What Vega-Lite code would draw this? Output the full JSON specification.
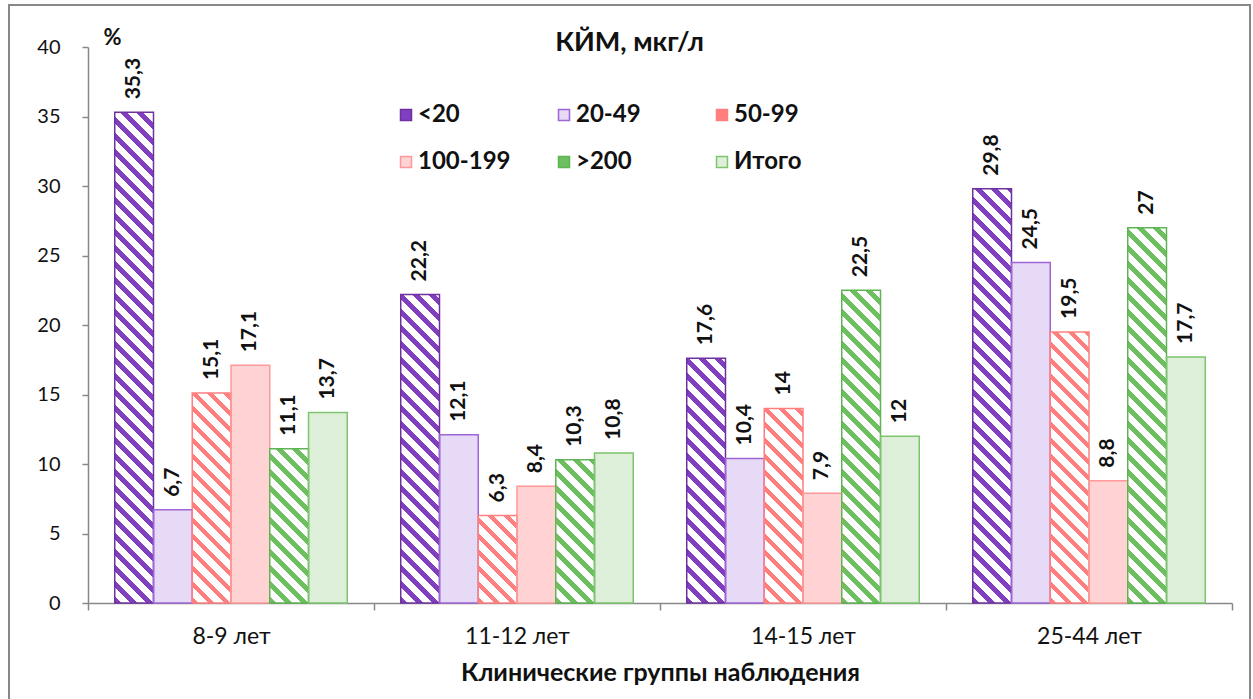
{
  "$schema": "https://vega.github.io/schema/vega-lite/v6.json",
  "width": 1241,
  "height": 700,
  "autosize": {"type": "none"},
  "padding": {"left": 9, "top": 5, "right": 3, "bottom": 0},
  "background": "white",
  "config": {
    "font": "Lato",
    "view": {"stroke": "#888888", "strokeWidth": 2},
    "locale": {"number": {"decimal": ",", "thousands": " ", "grouping": [3], "currency": ["", ""]}},
    "axis": {"grid": false, "domainColor": "#888888", "tickColor": "#888888", "domainWidth": 1.5, "tickWidth": 1.5, "labelColor": "#111111", "titleColor": "#111111"}
  },
  "title": {"text": "КЙМ, мкг/л", "fontSize": 27, "fontWeight": "bold", "anchor": "middle", "baseline": "alphabetic", "offset": -73, "color": "#111111"},
  "data": {"values": [
    {"g": "8-9 лет", "s": "<20", "v": 35.3},
    {"g": "8-9 лет", "s": "20-49", "v": 6.7},
    {"g": "8-9 лет", "s": "50-99", "v": 15.1},
    {"g": "8-9 лет", "s": "100-199", "v": 17.1},
    {"g": "8-9 лет", "s": ">200", "v": 11.1},
    {"g": "8-9 лет", "s": "Итого", "v": 13.7},
    {"g": "11-12 лет", "s": "<20", "v": 22.2},
    {"g": "11-12 лет", "s": "20-49", "v": 12.1},
    {"g": "11-12 лет", "s": "50-99", "v": 6.3},
    {"g": "11-12 лет", "s": "100-199", "v": 8.4},
    {"g": "11-12 лет", "s": ">200", "v": 10.3},
    {"g": "11-12 лет", "s": "Итого", "v": 10.8},
    {"g": "14-15 лет", "s": "<20", "v": 17.6},
    {"g": "14-15 лет", "s": "20-49", "v": 10.4},
    {"g": "14-15 лет", "s": "50-99", "v": 14},
    {"g": "14-15 лет", "s": "100-199", "v": 7.9},
    {"g": "14-15 лет", "s": ">200", "v": 22.5},
    {"g": "14-15 лет", "s": "Итого", "v": 12},
    {"g": "25-44 лет", "s": "<20", "v": 29.8},
    {"g": "25-44 лет", "s": "20-49", "v": 24.5},
    {"g": "25-44 лет", "s": "50-99", "v": 19.5},
    {"g": "25-44 лет", "s": "100-199", "v": 8.8},
    {"g": "25-44 лет", "s": ">200", "v": 27},
    {"g": "25-44 лет", "s": "Итого", "v": 17.7}
  ]},
  "encoding": {
    "x": {
      "field": "g", "type": "nominal", "sort": ["8-9 лет", "11-12 лет", "14-15 лет", "25-44 лет"],
      "scale": {"range": [79, 1223], "paddingInner": 0, "paddingOuter": 0},
      "axis": {"labelAngle": 0, "tickBand": "extent", "tickSize": 7, "offset": -102, "labelFontSize": 23, "labelPadding": 15, "title": "Клинические группы наблюдения", "titleFontSize": 25, "titleFontWeight": "bold", "titlePadding": 12}
    },
    "xOffset": {
      "field": "s", "type": "nominal",
      "scale": {"domain": ["<20", "20-49", "50-99", "100-199", ">200", "Итого"], "paddingInner": 0, "paddingOuter": 0.69}
    },
    "y": {
      "field": "v", "type": "quantitative",
      "scale": {"domain": [0, 40], "range": [598, 42], "nice": false, "zero": true},
      "axis": {"values": [0, 5, 10, 15, 20, 25, 30, 35, 40], "offset": -79, "tickSize": 6, "labelPadding": 22, "labelFontSize": 20, "title": "%", "titleAngle": 0, "titleX": 15, "titleY": 39, "titleAlign": "left", "titleBaseline": "alphabetic", "titleFontSize": 22, "titleFontWeight": "bold"}
    }
  },
  "layer": [
    {
      "mark": {"type": "bar"},
      "encoding": {
        "fill": {
          "field": "s", "type": "nominal",
          "scale": {"domain": ["<20", "20-49", "50-99", "100-199", ">200", "Итого"], "range": ["#7F3FBF", "#E7DAF6", "#FF7F7F", "#FFD3D3", "#6DBF5F", "#DDEFD8"]},
          "legend": {
            "orient": "none", "legendX": 385, "legendY": 98, "columns": 3, "direction": "horizontal", "gridAlign": "all",
            "columnPadding": 41, "rowPadding": 23, "title": null,
            "labelFontSize": 24, "labelFontWeight": "bold", "labelColor": "#111111", "labelOffset": 0,
            "symbolType": "square", "symbolSize": 121, "symbolStrokeWidth": 1.5, "padding": 0
          }
        }
      }
    },
    {
      "mark": {
        "type": "bar", "strokeWidth": 1.5,
        "fill": {"expr": "indexof(['<20','50-99','>200'], datum.s) < 0 ? 'transparent' : {gradient:'linear', x1:0, y1:1, x2: bandwidth('xOffset')*640/(pow(bandwidth('xOffset'),2)+pow(scale('y',0)-scale('y',datum.v),2)), y2: 1-(scale('y',0)-scale('y',datum.v))*640/(pow(bandwidth('xOffset'),2)+pow(scale('y',0)-scale('y',datum.v),2)), stops:[{offset:0,color:'rgba(255,255,255,0)'},{offset:0.0105,color:'rgba(255,255,255,0)'},{offset:0.0105,color:'white'},{offset:0.025,color:'white'},{offset:0.025,color:'rgba(255,255,255,0)'},{offset:0.0355,color:'rgba(255,255,255,0)'},{offset:0.0355,color:'white'},{offset:0.05,color:'white'},{offset:0.05,color:'rgba(255,255,255,0)'},{offset:0.0605,color:'rgba(255,255,255,0)'},{offset:0.0605,color:'white'},{offset:0.075,color:'white'},{offset:0.075,color:'rgba(255,255,255,0)'},{offset:0.0855,color:'rgba(255,255,255,0)'},{offset:0.0855,color:'white'},{offset:0.1,color:'white'},{offset:0.1,color:'rgba(255,255,255,0)'},{offset:0.1105,color:'rgba(255,255,255,0)'},{offset:0.1105,color:'white'},{offset:0.125,color:'white'},{offset:0.125,color:'rgba(255,255,255,0)'},{offset:0.1355,color:'rgba(255,255,255,0)'},{offset:0.1355,color:'white'},{offset:0.15,color:'white'},{offset:0.15,color:'rgba(255,255,255,0)'},{offset:0.1605,color:'rgba(255,255,255,0)'},{offset:0.1605,color:'white'},{offset:0.175,color:'white'},{offset:0.175,color:'rgba(255,255,255,0)'},{offset:0.1855,color:'rgba(255,255,255,0)'},{offset:0.1855,color:'white'},{offset:0.2,color:'white'},{offset:0.2,color:'rgba(255,255,255,0)'},{offset:0.2105,color:'rgba(255,255,255,0)'},{offset:0.2105,color:'white'},{offset:0.225,color:'white'},{offset:0.225,color:'rgba(255,255,255,0)'},{offset:0.2355,color:'rgba(255,255,255,0)'},{offset:0.2355,color:'white'},{offset:0.25,color:'white'},{offset:0.25,color:'rgba(255,255,255,0)'},{offset:0.2605,color:'rgba(255,255,255,0)'},{offset:0.2605,color:'white'},{offset:0.275,color:'white'},{offset:0.275,color:'rgba(255,255,255,0)'},{offset:0.2855,color:'rgba(255,255,255,0)'},{offset:0.2855,color:'white'},{offset:0.3,color:'white'},{offset:0.3,color:'rgba(255,255,255,0)'},{offset:0.3105,color:'rgba(255,255,255,0)'},{offset:0.3105,color:'white'},{offset:0.325,color:'white'},{offset:0.325,color:'rgba(255,255,255,0)'},{offset:0.3355,color:'rgba(255,255,255,0)'},{offset:0.3355,color:'white'},{offset:0.35,color:'white'},{offset:0.35,color:'rgba(255,255,255,0)'},{offset:0.3605,color:'rgba(255,255,255,0)'},{offset:0.3605,color:'white'},{offset:0.375,color:'white'},{offset:0.375,color:'rgba(255,255,255,0)'},{offset:0.3855,color:'rgba(255,255,255,0)'},{offset:0.3855,color:'white'},{offset:0.4,color:'white'},{offset:0.4,color:'rgba(255,255,255,0)'},{offset:0.4105,color:'rgba(255,255,255,0)'},{offset:0.4105,color:'white'},{offset:0.425,color:'white'},{offset:0.425,color:'rgba(255,255,255,0)'},{offset:0.4355,color:'rgba(255,255,255,0)'},{offset:0.4355,color:'white'},{offset:0.45,color:'white'},{offset:0.45,color:'rgba(255,255,255,0)'},{offset:0.4605,color:'rgba(255,255,255,0)'},{offset:0.4605,color:'white'},{offset:0.475,color:'white'},{offset:0.475,color:'rgba(255,255,255,0)'},{offset:0.4855,color:'rgba(255,255,255,0)'},{offset:0.4855,color:'white'},{offset:0.5,color:'white'},{offset:0.5,color:'rgba(255,255,255,0)'},{offset:0.5105,color:'rgba(255,255,255,0)'},{offset:0.5105,color:'white'},{offset:0.525,color:'white'},{offset:0.525,color:'rgba(255,255,255,0)'},{offset:0.5355,color:'rgba(255,255,255,0)'},{offset:0.5355,color:'white'},{offset:0.55,color:'white'},{offset:0.55,color:'rgba(255,255,255,0)'},{offset:0.5605,color:'rgba(255,255,255,0)'},{offset:0.5605,color:'white'},{offset:0.575,color:'white'},{offset:0.575,color:'rgba(255,255,255,0)'},{offset:0.5855,color:'rgba(255,255,255,0)'},{offset:0.5855,color:'white'},{offset:0.6,color:'white'},{offset:0.6,color:'rgba(255,255,255,0)'},{offset:0.6105,color:'rgba(255,255,255,0)'},{offset:0.6105,color:'white'},{offset:0.625,color:'white'},{offset:0.625,color:'rgba(255,255,255,0)'},{offset:0.6355,color:'rgba(255,255,255,0)'},{offset:0.6355,color:'white'},{offset:0.65,color:'white'},{offset:0.65,color:'rgba(255,255,255,0)'},{offset:0.6605,color:'rgba(255,255,255,0)'},{offset:0.6605,color:'white'},{offset:0.675,color:'white'},{offset:0.675,color:'rgba(255,255,255,0)'},{offset:0.6855,color:'rgba(255,255,255,0)'},{offset:0.6855,color:'white'},{offset:0.7,color:'white'},{offset:0.7,color:'rgba(255,255,255,0)'},{offset:0.7105,color:'rgba(255,255,255,0)'},{offset:0.7105,color:'white'},{offset:0.725,color:'white'},{offset:0.725,color:'rgba(255,255,255,0)'},{offset:0.7355,color:'rgba(255,255,255,0)'},{offset:0.7355,color:'white'},{offset:0.75,color:'white'},{offset:0.75,color:'rgba(255,255,255,0)'},{offset:0.7605,color:'rgba(255,255,255,0)'},{offset:0.7605,color:'white'},{offset:0.775,color:'white'},{offset:0.775,color:'rgba(255,255,255,0)'},{offset:0.7855,color:'rgba(255,255,255,0)'},{offset:0.7855,color:'white'},{offset:0.8,color:'white'},{offset:0.8,color:'rgba(255,255,255,0)'},{offset:0.8105,color:'rgba(255,255,255,0)'},{offset:0.8105,color:'white'},{offset:0.825,color:'white'},{offset:0.825,color:'rgba(255,255,255,0)'},{offset:0.8355,color:'rgba(255,255,255,0)'},{offset:0.8355,color:'white'},{offset:0.85,color:'white'},{offset:0.85,color:'rgba(255,255,255,0)'},{offset:0.8605,color:'rgba(255,255,255,0)'},{offset:0.8605,color:'white'},{offset:0.875,color:'white'},{offset:0.875,color:'rgba(255,255,255,0)'},{offset:0.8855,color:'rgba(255,255,255,0)'},{offset:0.8855,color:'white'},{offset:0.9,color:'white'},{offset:0.9,color:'rgba(255,255,255,0)'},{offset:0.9105,color:'rgba(255,255,255,0)'},{offset:0.9105,color:'white'},{offset:0.925,color:'white'},{offset:0.925,color:'rgba(255,255,255,0)'},{offset:0.9355,color:'rgba(255,255,255,0)'},{offset:0.9355,color:'white'},{offset:0.95,color:'white'},{offset:0.95,color:'rgba(255,255,255,0)'},{offset:0.9605,color:'rgba(255,255,255,0)'},{offset:0.9605,color:'white'},{offset:0.975,color:'white'},{offset:0.975,color:'rgba(255,255,255,0)'},{offset:0.9855,color:'rgba(255,255,255,0)'},{offset:0.9855,color:'white'},{offset:1,color:'white'}]}"}
      },
      "encoding": {
        "stroke": {
          "field": "s", "type": "nominal", "legend": null,
          "scale": {"domain": ["<20", "20-49", "50-99", "100-199", ">200", "Итого"], "range": ["#7030A0", "#9F65D6", "#FF7F7F", "#FF9999", "#5EB352", "#7CC56E"]}
        }
      }
    },
    {
      "mark": {"type": "text", "angle": -90, "align": "left", "baseline": "middle", "dx": 13, "fontSize": 21, "fontWeight": "bold", "color": "#111111"},
      "encoding": {
        "text": {"field": "v", "type": "quantitative", "format": "~g"}
      }
    }
  ]
}
